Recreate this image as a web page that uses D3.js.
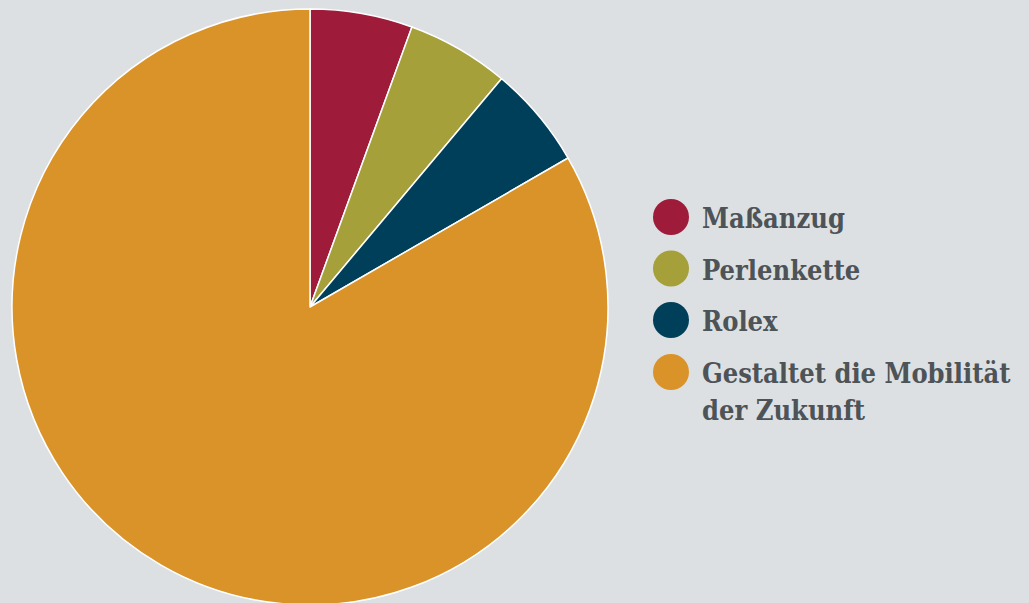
<!DOCTYPE html>
<html><head><meta charset="utf-8">
<script src="https://cdn.jsdelivr.net/npm/d3@7"></script>
<style>html,body{margin:0;padding:0;background:#dce0e2;}svg{display:block;}</style>
</head><body>
<svg id="c" width="1029" height="603"></svg>
<script>
const categories = ["Maßanzug", "Perlenkette", "Rolex", "Gestaltet die Mobilität der Zukunft"];
const values = [1, 1, 1, 15];
const colors = ["#9e1b3a", "#a5a03a", "#003f5a", "#d99328"];
const legendLines = [["Maßanzug"], ["Perlenkette"], ["Rolex"], ["Gestaltet die Mobilität", "der Zukunft"]];

const svg = d3.select("#c");
const cx = 310, cy = 307, r = 298;
const pie = d3.pie().sort(null).value(d => d)(values);
const arc = d3.arc().innerRadius(0).outerRadius(r);
const g = svg.append("g").attr("transform", `translate(${cx},${cy})`);
g.selectAll("path").data(pie).join("path")
  .attr("d", arc)
  .attr("fill", (d, i) => colors[i])
  .attr("stroke", "#fff").attr("stroke-width", 1.5).attr("stroke-linejoin", "round");

const lg = svg.append("g").attr("transform", "translate(671,217)");
const ys = [0, 51.5, 103, 155];
legendLines.forEach((lines, i) => {
  const item = lg.append("g").attr("transform", `translate(0,${ys[i]})`);
  item.append("circle").attr("r", 18).attr("fill", colors[i]);
  const t = item.append("text").attr("x", 31).attr("y", 11)
    .attr("font-family", "'DejaVu Serif Condensed', 'DejaVu Serif', serif").attr("font-weight", "bold")
    .attr("font-size", 27).attr("fill", "#4e5357");
  lines.forEach((l, j) => t.append("tspan").attr("x", 31).attr("dy", j ? 37 : 0).text(l));
});
</script>
</body></html>
